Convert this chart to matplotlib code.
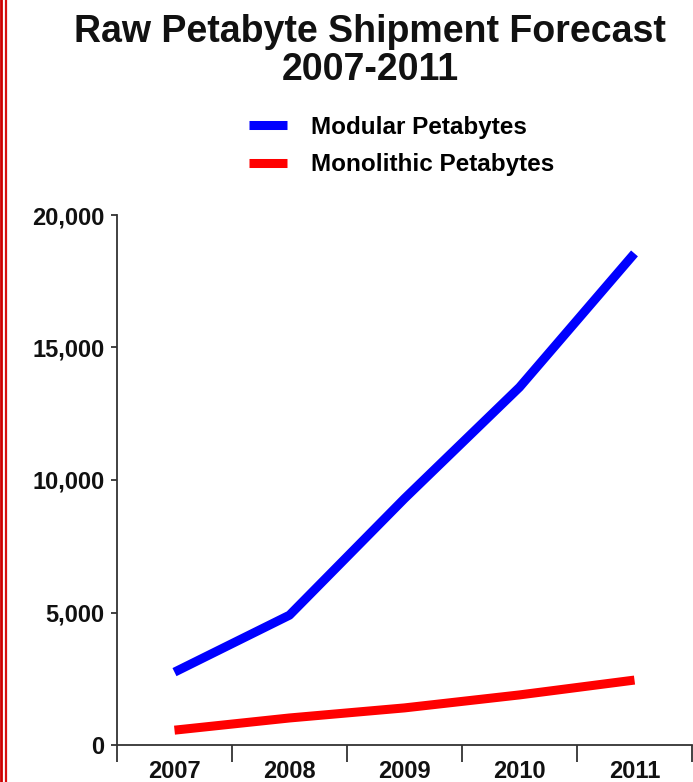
import matplotlib.pyplot as plt
from matplotlib.lines import Line2D
from matplotlib.ticker import FuncFormatter, FixedLocator

plt.rcParams['font.family'] = ['Liberation Sans', 'DejaVu Sans']

years = ['2007', '2008', '2009', '2010', '2011']
modular = [2750, 4900, 9300, 13500, 18550]
monolithic = [560, 1020, 1400, 1890, 2450]
y_ticks = [0, 5000, 10000, 15000, 20000]

fig = plt.figure(figsize=(6.93, 7.82), dpi=100)
ax = fig.add_axes([117 / 693, 37 / 782, 575 / 693, 530 / 782])

x = list(range(len(years)))
ax.plot(x, modular, color='#0000ff', lw=6.5, solid_capstyle='butt',
        solid_joinstyle='round', label='Modular Petabytes')
ax.plot(x, monolithic, color='#ff0000', lw=6.5, solid_capstyle='butt',
        solid_joinstyle='round', label='Monolithic Petabytes')

ax.set_xlim(-0.5, len(years) - 0.5)
ax.set_ylim(0, 20000)

# category labels sit between the boundary ticks
ax.xaxis.set_major_locator(FixedLocator([i - 0.5 for i in range(len(years) + 1)]))
ax.xaxis.set_minor_locator(FixedLocator(x))
ax.set_xticklabels([''] * (len(years) + 1))
ax.set_xticklabels(years, minor=True)
ax.tick_params(axis='x', which='major', length=12, width=1.3, color='#333333')
ax.tick_params(axis='x', which='minor', length=0, pad=11, labelsize=17)

ax.set_yticks(y_ticks)
ax.yaxis.set_major_formatter(FuncFormatter(lambda v, p: f'{int(v):,}'))
ax.tick_params(axis='y', length=4, width=1.3, color='#333333', labelsize=17, pad=5)

for lbl in ax.get_xticklabels(minor=True) + ax.get_yticklabels():
    lbl.set_fontweight('bold')
    lbl.set_color('#111111')

for side in ['top', 'right']:
    ax.spines[side].set_visible(False)
for side in ['left', 'bottom']:
    ax.spines[side].set_linewidth(1.3)
    ax.spines[side].set_color('#333333')
ax.spines['left'].set_bounds(0, 20000)

fig.text(370 / 693, 1 - 51 / 782, 'Raw Petabyte Shipment Forecast\n2007-2011',
         ha='center', va='center', fontsize=27, fontweight='bold',
         linespacing=1.06, color='#111111')

fig.legend(loc='upper left', bbox_to_anchor=(227 / 693, 1 - 94 / 782),
           frameon=False, handlelength=1.55, handletextpad=1.0,
           labelspacing=0.6, prop={'weight': 'bold', 'size': 17.5})

# red double rule down the left edge
fig.add_artist(Line2D([1.4 / 693] * 2, [0, 1], color='#cc0000', lw=2.0))
fig.add_artist(Line2D([5.5 / 693] * 2, [0, 1], color='#d81010', lw=1.6))

fig.savefig('out.png', dpi=100, facecolor='white')
